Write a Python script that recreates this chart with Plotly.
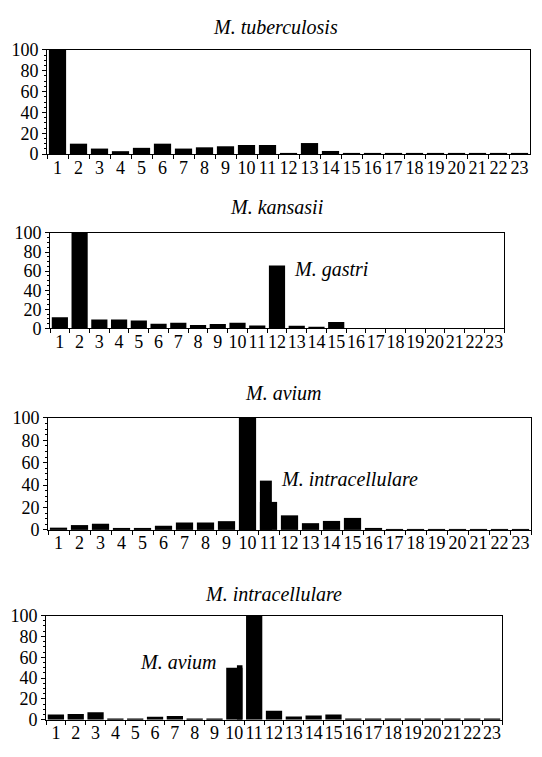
import plotly.graph_objects as go

W, H = 542, 757

categories = [str(i) for i in range(1, 24)]

titles = ["M. tuberculosis", "M. kansasii", "M. avium", "M. intracellulare"]

tuberculosis = [100, 10, 5.3, 2.8, 6, 10, 5.3, 6.5, 7.5, 8.7, 8.7, 0.5, 10.6, 3,
                0.5, 0.5, 0.5, 0.5, 0.5, 0.5, 0.5, 0.5, 0.5]
kansasii = [11.7, 100, 9.3, 9.3, 8.3, 4.8, 5.9, 3.4, 4.5, 5.9, 3.1, 66, 2.8, 1.7,
            6.6, 0, 0, 0, 0, 0, 0, 0, 0]
avium = [2, 4.3, 5.5, 1.4, 0.9, 3.7, 6.6, 6.6, 7.8, 100, 25, 13, 6, 8, 10.7,
         1.5, 0.3, 0.3, 0.3, 0.3, 0.3, 0.3, 0.3]
intracellulare = [5, 5.6, 7.2, 0.3, 0.3, 2.8, 3.7, 0.5, 0.5, 50, 100, 8.7, 3.1, 4,
                  5, 0.5, 0.2, 0.2, 0.2, 0.2, 0.2, 0.2, 0.2]

# split bars (a second, partial-width level within one category)
avium_split_cat = ["11"]
avium_split_val = [44]
intra_split_cat = ["10"]
intra_split_val = [52.3]

series = [tuberculosis, kansasii, avium, intracellulare]

y_ticks = [0, 20, 40, 60, 80, 100]

# panel boxes in pixels: (left, right, top, bottom)
boxes = [(47, 530, 41, 148), (50, 504, 229, 327), (48, 531, 419, 534), (46, 502, 622, 729)]
title_pos = [(275, 17), (276, 202), (283, 393), (273, 600)]

FONT = "Liberation Serif"

fig = go.Figure()
layout = dict(width=W, height=H, margin=dict(l=0, r=0, t=0, b=0),
              paper_bgcolor="white", plot_bgcolor="white", showlegend=False,
              barmode="overlay", font=dict(family=FONT, color="black", size=18))
annotations = []

for i, vals in enumerate(series):
    n = "" if i == 0 else str(i + 1)
    xa, ya = "x" + n, "y" + n
    fig.add_trace(go.Bar(x=categories, y=vals, xaxis=xa, yaxis=ya,
                         marker=dict(color="black", line=dict(width=0)), width=0.82))
    l, r, t, b = boxes[i]
    layout["xaxis" + n] = dict(domain=[l / W, r / W], anchor=ya, type="category",
                               range=[-0.5, 22.5], tickson="boundaries", ticks="outside",
                               ticklen=4, tickwidth=1, tickcolor="black",
                               tickmode="array", tickvals=categories, ticktext=categories,
                               tickangle=0, ticklabelstandoff=-3,
                               showline=True, linecolor="black", linewidth=1, mirror=True,
                               showgrid=False, tickfont=dict(size=18, family=FONT),
                               fixedrange=True)
    layout["yaxis" + n] = dict(domain=[1 - b / H, 1 - t / H], anchor=xa, range=[0, 100],
                               tickvals=y_ticks, ticks="outside", ticklen=4, tickwidth=1,
                               tickcolor="black", showline=True, linecolor="black",
                               linewidth=1, mirror=True, showgrid=False, zeroline=False,
                               minor=dict(dtick=5, ticks="outside", ticklen=2,
                                          tickcolor="black", showgrid=False),
                               tickfont=dict(size=18, family=FONT), fixedrange=True)
    tx, ty = title_pos[i]
    annotations.append(dict(text="<i>" + titles[i] + "</i>", x=tx / W, y=1 - ty / H,
                            xref="paper", yref="paper", showarrow=False,
                            xanchor="center", yanchor="middle",
                            font=dict(size=20, family=FONT)))

# partial-width upper levels
fig.add_trace(go.Bar(x=avium_split_cat, y=avium_split_val, xaxis="x3", yaxis="y3",
                     marker=dict(color="black", line=dict(width=0)), width=0.57, offset=-0.41))
fig.add_trace(go.Bar(x=intra_split_cat, y=intra_split_val, xaxis="x4", yaxis="y4",
                     marker=dict(color="black", line=dict(width=0)), width=0.28, offset=0.13))

labels = [("M. gastri", 292, 267), ("M. intracellulare", 279, 482), ("M. avium", 138, 670)]
for txt, px, py in labels:
    annotations.append(dict(text="<i>" + txt + "</i>", x=px / W, y=1 - py / H,
                            xref="paper", yref="paper", showarrow=False,
                            xanchor="left", yanchor="middle",
                            font=dict(size=20, family=FONT)))

layout["annotations"] = annotations
fig.update_layout(**layout)
fig.write_html("out.html")
